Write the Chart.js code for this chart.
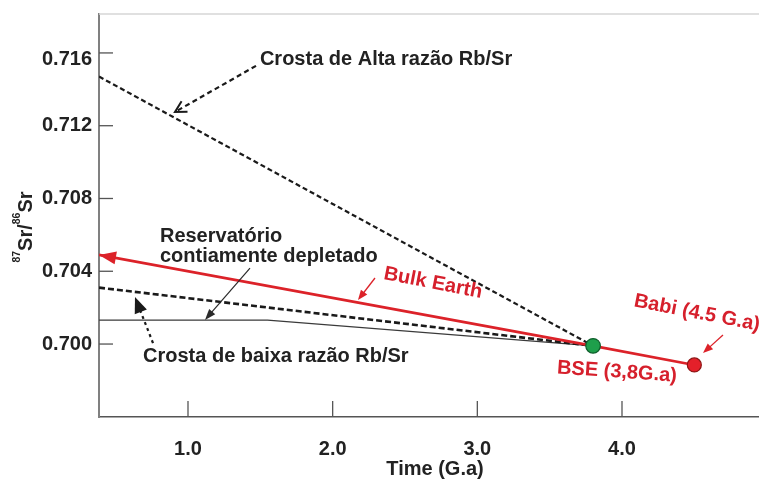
<!DOCTYPE html>
<html><head><meta charset="utf-8">
<script src="https://cdn.jsdelivr.net/npm/chart.js@4.4.1/dist/chart.umd.min.js"></script>
<style>html,body{margin:0;padding:0;background:#fff;}#wrap{width:759px;height:481px;}</style>
</head><body><div id="wrap"><canvas id="c" width="759" height="481"></canvas></div>
<script>
// ---- data ----
const xTicks = [1.0, 2.0, 3.0, 4.0];
const yTicks = [0.700, 0.704, 0.708, 0.712, 0.716];
const xRange = [0.3848, 4.947];
const yRange = [0.69599, 0.71814];

const bulkEarthX = [0.385, 3.8, 4.5];
const bulkEarthY = [0.7049, 0.6999, 0.69885];
const crostaAltaX = [0.385, 3.8];
const crostaAltaY = [0.7147, 0.6999];
const crostaBaixaX = [0.385, 3.8];
const crostaBaixaY = [0.7031, 0.6999];
const reservX = [0.385, 1.55, 3.8];
const reservY = [0.70132, 0.70132, 0.6999];
const bseX = [3.8];
const bseY = [0.6999];
const babiX = [4.5];
const babiY = [0.69885];

// annotation texts (anchored in data units)
const noteTexts = ['Crosta de Alta razão Rb/Sr', 'Reservatório', 'contiamente depletado',
  'Bulk Earth', 'Crosta de baixa razão Rb/Sr', 'BSE (3,8G.a)', 'Babi (4.5 G.a)'];
const noteX = [1.497, 0.806, 0.806, 2.694, 0.689, 3.965, 4.518];
const noteY = [0.71534, 0.70561, 0.70451, 0.70335, 0.69901, 0.69846, 0.70170];
// arrows (data units): from -> to
const arrowFromX = [1.470, 1.4286, 2.2926, 0.758, 4.698];
const arrowFromY = [0.71529, 0.704178, 0.703629, 0.700055, 0.700494];
const arrowToX = [0.910, 1.1175, 2.175, 0.6336, 4.5598];
const arrowToY = [0.712756, 0.701319, 0.702419, 0.702584, 0.699505];

// ---- styles ----
const FONT = '"Liberation Sans", Arial, Helvetica, sans-serif';
const RED = '#dc2229';
const RED_TXT = '#d6202c';
const DARK = '#222222';
const pts = (xs, ys) => xs.map((x, i) => ({x: x, y: ys[i]}));

const noteStyle = [
  {color: DARK, align: 'left', base: 'alphabetic', rot: 0},
  {color: DARK, align: 'left', base: 'alphabetic', rot: 0},
  {color: DARK, align: 'left', base: 'alphabetic', rot: 0},
  {color: RED_TXT, align: 'center', base: 'middle', rot: 11},
  {color: DARK, align: 'left', base: 'alphabetic', rot: 0},
  {color: RED_TXT, align: 'center', base: 'middle', rot: 4},
  {color: RED_TXT, align: 'center', base: 'middle', rot: 11}
];
const arrowStyle = [
  {color: '#1a1a1a', width: 2.2, dash: [5, 3.5], head: 'open', len: 11, half: 6},
  {color: '#2a2a2a', width: 1.2, dash: [], head: 'filled', len: 11, half: 4},
  {color: RED, width: 1.3, dash: [], head: 'filled', len: 10, half: 4},
  {color: '#1a1a1a', width: 2.2, dash: [3, 3.5], head: 'filled', len: 16, half: 6.5},
  {color: RED, width: 1.3, dash: [], head: 'filled', len: 10, half: 4}
];

function head(ctx, fx, fy, tx, ty, len, half, filled) {
  const a = Math.atan2(ty - fy, tx - fx);
  const bx = tx - len * Math.cos(a), by = ty - len * Math.sin(a);
  ctx.setLineDash([]);
  ctx.beginPath();
  ctx.moveTo(bx + half * Math.sin(a), by - half * Math.cos(a));
  ctx.lineTo(tx, ty);
  ctx.lineTo(bx - half * Math.sin(a), by + half * Math.cos(a));
  if (filled) { ctx.closePath(); ctx.fill(); } else { ctx.stroke(); }
}

const decor = {
  id: 'decor',
  afterDraw(chart) {
    const ctx = chart.ctx, xs = chart.scales.x, ys = chart.scales.y, ca = chart.chartArea;
    ctx.save();
    // top border line
    ctx.strokeStyle = '#d6d6d6'; ctx.lineWidth = 1.5;
    ctx.beginPath(); ctx.moveTo(ca.left, ca.top); ctx.lineTo(ca.right, ca.top); ctx.stroke();
    // inward tick marks
    ctx.strokeStyle = '#555'; ctx.lineWidth = 1.3;
    ys.ticks.forEach(t => { const p = ys.getPixelForValue(t.value);
      ctx.beginPath(); ctx.moveTo(ca.left, p); ctx.lineTo(ca.left + 14, p); ctx.stroke(); });
    xs.ticks.forEach(t => { const p = xs.getPixelForValue(t.value);
      ctx.beginPath(); ctx.moveTo(p, ca.bottom); ctx.lineTo(p, ca.bottom - 16); ctx.stroke(); });

    // arrowhead at left end of Bulk Earth
    ctx.fillStyle = RED;
    head(ctx, xs.getPixelForValue(bulkEarthX[1]), ys.getPixelForValue(bulkEarthY[1]),
      xs.getPixelForValue(bulkEarthX[0]), ys.getPixelForValue(bulkEarthY[0]), 17, 6.5, true);

    // annotation arrows
    arrowFromX.forEach((fx0, i) => {
      const s = arrowStyle[i];
      const fx = xs.getPixelForValue(fx0), fy = ys.getPixelForValue(arrowFromY[i]);
      const tx = xs.getPixelForValue(arrowToX[i]), ty = ys.getPixelForValue(arrowToY[i]);
      ctx.strokeStyle = s.color; ctx.fillStyle = s.color; ctx.lineWidth = s.width;
      ctx.setLineDash(s.dash);
      const a = Math.atan2(ty - fy, tx - fx);
      const stop = s.head === 'filled' ? s.len * 0.7 : 1;
      ctx.beginPath(); ctx.moveTo(fx, fy);
      ctx.lineTo(tx - stop * Math.cos(a), ty - stop * Math.sin(a)); ctx.stroke();
      ctx.lineWidth = s.head === 'open' ? 2 : s.width;
      head(ctx, fx, fy, tx, ty, s.len, s.half, s.head === 'filled');
    });

    // annotation texts
    ctx.font = 'bold 20px ' + FONT;
    noteTexts.forEach((txt, i) => {
      const s = noteStyle[i];
      ctx.save();
      ctx.translate(xs.getPixelForValue(noteX[i]), ys.getPixelForValue(noteY[i]));
      ctx.rotate(s.rot * Math.PI / 180);
      ctx.fillStyle = s.color; ctx.textAlign = s.align; ctx.textBaseline = s.base;
      ctx.fillText(txt, 0, 0);
      ctx.restore();
    });

    // x axis title
    ctx.fillStyle = DARK; ctx.textAlign = 'center'; ctx.textBaseline = 'alphabetic';
    ctx.font = 'bold 20px ' + FONT;
    ctx.fillText('Time (G.a)', ca.left + 336, ca.bottom + 58);

    // y axis title with superscripts
    const segs = [['87', 'bold 10.5px ' + FONT, -12], ['Sr/', 'bold 20px ' + FONT, 0],
                  ['86', 'bold 10.5px ' + FONT, -12], ['Sr', 'bold 20px ' + FONT, 0]];
    let total = 0;
    segs.forEach(s => { ctx.font = s[1]; s.push(ctx.measureText(s[0]).width); total += s[3]; });
    ctx.save();
    ctx.translate(ca.left - 67, 227);
    ctx.rotate(-Math.PI / 2);
    ctx.textAlign = 'left';
    let cx = -total / 2;
    segs.forEach(s => { ctx.font = s[1]; ctx.fillText(s[0], cx, s[2]); cx += s[3]; });
    ctx.restore();
    ctx.restore();
  }
};

const tickFont = {family: FONT, size: 20, weight: 'bold'};
const topYTick = yTicks[yTicks.length - 1];

new Chart(document.getElementById('c').getContext('2d'), {
  type: 'scatter',
  data: {
    datasets: [
      {label: 'BSE', data: pts(bseX, bseY), pointRadius: 7.3, backgroundColor: '#1e9f4b',
        borderColor: '#0f5f2c', borderWidth: 1.2, order: 0},
      {label: 'Babi', data: pts(babiX, babiY), pointRadius: 7, backgroundColor: '#e4202a',
        borderColor: '#8e1515', borderWidth: 1.2, order: 0},
      {label: 'Bulk Earth', data: pts(bulkEarthX, bulkEarthY), showLine: true, pointRadius: 0,
        borderColor: RED, borderWidth: 2.6, order: 1},
      {label: 'Crosta alta', data: pts(crostaAltaX, crostaAltaY), showLine: true, pointRadius: 0,
        borderColor: '#1a1a1a', borderWidth: 2.2, borderDash: [5, 3], order: 2},
      {label: 'Crosta baixa', data: pts(crostaBaixaX, crostaBaixaY), showLine: true, pointRadius: 0,
        borderColor: '#1a1a1a', borderWidth: 2.6, borderDash: [6, 3], order: 2},
      {label: 'Reservatório', data: pts(reservX, reservY), showLine: true, pointRadius: 0,
        borderColor: '#3a3a3a', borderWidth: 1.3, order: 3}
    ]
  },
  options: {
    responsive: false, animation: false, events: [],
    layout: {autoPadding: false, padding: {top: 14, left: 0, right: 0, bottom: 0}},
    plugins: {legend: {display: false}, tooltip: {enabled: false}},
    scales: {
      x: {
        type: 'linear', min: xRange[0], max: xRange[1],
        afterBuildTicks: s => { s.ticks = xTicks.map(v => ({value: v})); },
        afterFit: s => { s.height = 64; s.paddingLeft = 0; s.paddingRight = 0; },
        grid: {display: false, drawTicks: false},
        border: {display: true, color: '#555', width: 1.6},
        ticks: {padding: 20, font: tickFont, color: DARK, callback: v => Number(v).toFixed(1)}
      },
      y: {
        type: 'linear', min: yRange[0], max: yRange[1],
        afterBuildTicks: s => { s.ticks = yTicks.map(v => ({value: v})); },
        afterFit: s => { s.width = 99; s.paddingTop = 0; s.paddingBottom = 0; },
        grid: {display: false, drawTicks: false},
        border: {display: true, color: '#808080', width: 2},
        ticks: {
          padding: 7, color: DARK,
          font: c => (c.tick && c.tick.value === topYTick)
            ? {family: FONT, size: 20, weight: 'bold', lineHeight: '14px'} : tickFont,
          callback: v => (v === topYTick) ? ['', Number(v).toFixed(3)] : Number(v).toFixed(3)
        }
      }
    }
  },
  plugins: [decor]
});
</script>
</body></html>
